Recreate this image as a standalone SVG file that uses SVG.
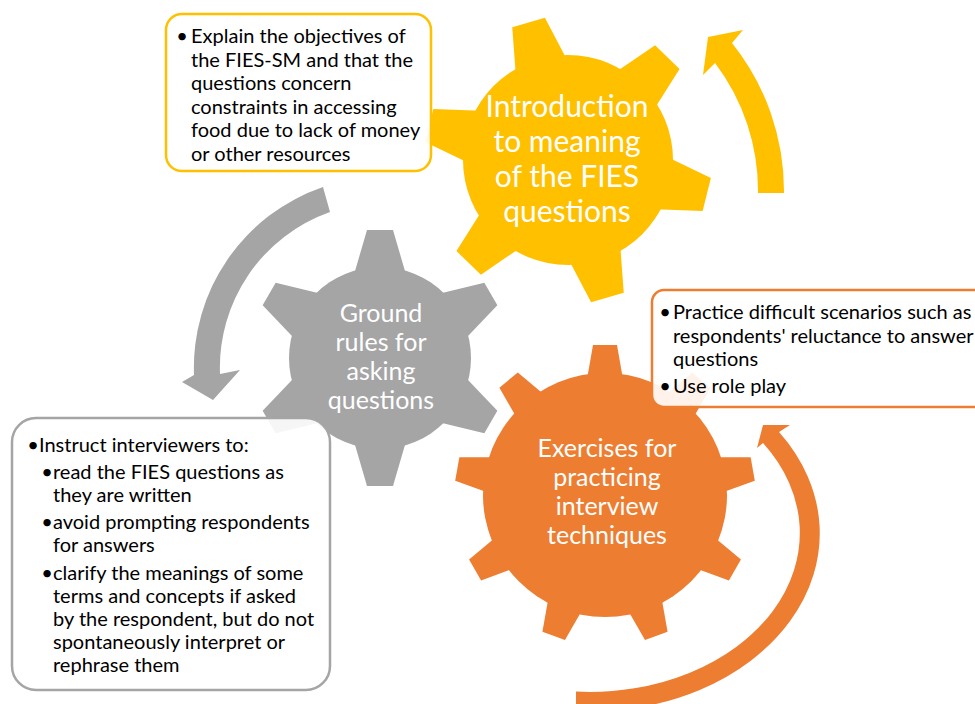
<svg xmlns="http://www.w3.org/2000/svg" xmlns:xlink="http://www.w3.org/1999/xlink" width="975" height="704" viewBox="0 0 975 704">
  <style>
    .lbl { font-family: "Lato", "Liberation Sans", sans-serif; fill: #ffffff; text-anchor: middle; }
    .big { font-size: 30px; }
    .mid { font-size: 25px; }
    .box { fill: #ffffff; fill-opacity: 0.9; stroke-width: 2.5; }
    .txt { font-family: "Lato", "Liberation Sans", sans-serif; font-size: 20px; fill: #000000; }
    .dot { text-anchor: middle; }
    .y { fill: #FFC000; }
    .g { fill: #A5A5A5; }
    .o { fill: #ED7D31; }
  </style>
  <defs>
    <!-- single teeth, pointing up from the gear centre -->
    <path id="toothY" d="M -17 -143 L 17 -143 L 28 -90 L -28 -90 Z"/>
    <path id="toothG" d="M -13 -128 L 13 -128 L 27 -80 L -27 -80 Z"/>
    <path id="toothO" d="M -12 -150 L 12 -150 L 19 -110 L -19 -110 Z"/>
  </defs>

  <!-- circular arrows -->
  <g id="connectors">
    <path class="y" d="M 784 193 A 237 237 0 0 0 732 43 L 743 30 L 708 37 L 703 75 L 715 63 A 211 211 0 0 1 758 193 Z"/>
    <path class="g" d="M 323 187 A 191 191 0 0 0 194 375 L 182 382 L 213 400 L 240 370 L 220 374 A 165 165 0 0 1 330 212 Z"/>
    <path class="o" d="M 576 711 A 229 178 0 0 0 779 432 L 790 425 L 763 425 L 757 448 L 763 443 A 210 159 0 0 1 576 691.6 Z"/>
  </g>

  <!-- gear: introduction -->
  <g id="gear-intro" class="y">
    <g transform="translate(568 160)">
      <circle r="105"/>
      <use xlink:href="#toothY" transform="rotate(-16)"/>
      <use xlink:href="#toothY" transform="rotate(44)"/>
      <use xlink:href="#toothY" transform="rotate(104)"/>
      <use xlink:href="#toothY" transform="rotate(164)"/>
      <use xlink:href="#toothY" transform="rotate(224)"/>
      <use xlink:href="#toothY" transform="rotate(284)"/>
    </g>
    <text class="lbl big" x="567" y="117">Introduction</text>
    <text class="lbl big" x="567" y="152">to meaning</text>
    <text class="lbl big" x="567" y="187">of the FIES</text>
    <text class="lbl big" x="567" y="222">questions</text>
  </g>

  <!-- gear: ground rules -->
  <g id="gear-ground" class="g">
    <g transform="translate(380 358)">
      <circle r="91"/>
      <use xlink:href="#toothG"/>
      <use xlink:href="#toothG" transform="rotate(60)"/>
      <use xlink:href="#toothG" transform="rotate(120)"/>
      <use xlink:href="#toothG" transform="rotate(180)"/>
      <use xlink:href="#toothG" transform="rotate(240)"/>
      <use xlink:href="#toothG" transform="rotate(300)"/>
    </g>
    <text class="lbl mid" x="381" y="322">Ground</text>
    <text class="lbl mid" x="381" y="351">rules for</text>
    <text class="lbl mid" x="381" y="380">asking</text>
    <text class="lbl mid" x="381" y="409">questions</text>
  </g>

  <!-- gear: exercises -->
  <g id="gear-exercises" class="o">
    <g transform="translate(605 495)">
      <circle r="122"/>
      <use xlink:href="#toothO"/>
      <use xlink:href="#toothO" transform="rotate(40)"/>
      <use xlink:href="#toothO" transform="rotate(80)"/>
      <use xlink:href="#toothO" transform="rotate(120)"/>
      <use xlink:href="#toothO" transform="rotate(160)"/>
      <use xlink:href="#toothO" transform="rotate(200)"/>
      <use xlink:href="#toothO" transform="rotate(240)"/>
      <use xlink:href="#toothO" transform="rotate(280)"/>
      <use xlink:href="#toothO" transform="rotate(320)"/>
    </g>
    <text class="lbl mid" x="607" y="457">Exercises for</text>
    <text class="lbl mid" x="607" y="486">practicing</text>
    <text class="lbl mid" x="607" y="515">interview</text>
    <text class="lbl mid" x="607" y="544">techniques</text>
  </g>

  <!-- note: introduction -->
  <g id="note-intro">
    <rect class="box" x="166" y="14" width="265" height="157" rx="16" stroke="#FFC000"/>
    <text class="txt dot" x="182" y="43">•</text>
    <text class="txt" x="191" y="43">Explain the objectives of</text>
    <text class="txt" x="191" y="66.5">the FIES-SM and that the</text>
    <text class="txt" x="191" y="90">questions concern</text>
    <text class="txt" x="191" y="113.5">constraints in accessing</text>
    <text class="txt" x="191" y="137">food due to lack of money</text>
    <text class="txt" x="191" y="160.5">or other resources</text>
  </g>

  <!-- note: exercises -->
  <g id="note-exercises">
    <rect class="box" x="652" y="290" width="340" height="117" rx="12" stroke="#ED7D31"/>
    <text class="txt dot" x="665" y="319">•</text>
    <text class="txt" x="673" y="319">Practice difficult scenarios such as</text>
    <text class="txt" x="673" y="342.5">respondents' reluctance to answer</text>
    <text class="txt" x="673" y="366">questions</text>
    <text class="txt dot" x="665" y="393">•</text>
    <text class="txt" x="673" y="393">Use role play</text>
  </g>

  <!-- note: ground rules -->
  <g id="note-ground">
    <rect class="box" x="12" y="418" width="318" height="272" rx="24" stroke="#A5A5A5"/>
    <text class="txt dot" x="33" y="452">•</text>
    <text class="txt" x="39" y="452">Instruct interviewers to:</text>
    <text class="txt dot" x="47" y="479">•</text>
    <text class="txt" x="53" y="479">read the FIES questions as</text>
    <text class="txt" x="53" y="502">they are written</text>
    <text class="txt dot" x="47" y="529">•</text>
    <text class="txt" x="53" y="529">avoid prompting respondents</text>
    <text class="txt" x="53" y="552">for answers</text>
    <text class="txt dot" x="47" y="580">•</text>
    <text class="txt" x="53" y="580">clarify the meanings of some</text>
    <text class="txt" x="53" y="603">terms and concepts if asked</text>
    <text class="txt" x="53" y="626">by the respondent, but do not</text>
    <text class="txt" x="53" y="649">spontaneously interpret or</text>
    <text class="txt" x="53" y="672">rephrase them</text>
  </g>
</svg>
